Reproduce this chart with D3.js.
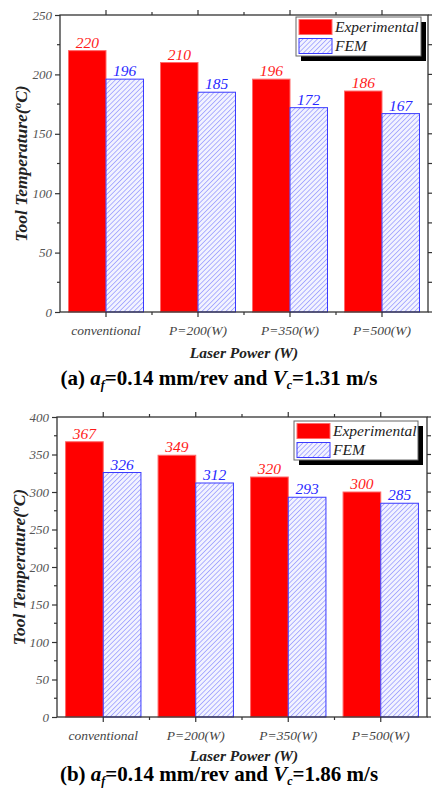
<!DOCTYPE html>
<html><head><meta charset="utf-8">
<script src="https://cdn.jsdelivr.net/npm/d3@7"></script>
<style>html,body{margin:0;padding:0;background:#fff;}svg{display:block;}</style>
</head><body>
<script>
const categories = ["conventional","P=200(W)","P=350(W)","P=500(W)"];
const seriesNames = ["Experimental","FEM"];
const expA = [220,210,196,186];
const femA = [196,185,172,167];
const expB = [367,349,320,300];
const femB = [326,312,293,285];
const yTicksA = [0,50,100,150,200,250];
const yTicksB = [0,50,100,150,200,250,300,350,400];

const W = 432, H = 789;
const svg = d3.select("body").append("svg").attr("width", W).attr("height", H);
const defs = svg.append("defs");
const pat = defs.append("pattern").attr("id","hatch").attr("patternUnits","userSpaceOnUse")
  .attr("width",3.4).attr("height",3.4).attr("patternTransform","rotate(45)");
pat.append("rect").attr("width",3.4).attr("height",3.4).attr("fill","#f2f3ff");
pat.append("line").attr("x1",0).attr("y1",0).attr("x2",0).attr("y2",3.4)
  .attr("stroke","#8a8dff").attr("stroke-width",1.3);

const serif = "'Liberation Serif','Times New Roman',serif";
const axisCol = "#333";

function panel(cfg){
  const g = svg.append("g");
  const x0 = d3.scaleBand().domain(categories).range([cfg.left, cfg.right]).padding(0);
  const x1 = d3.scaleBand().domain(seriesNames).range([0, x0.bandwidth()]).paddingInner(0).paddingOuter(0.227);
  const y = d3.scaleLinear().domain([0, cfg.ymax]).range([cfg.bottom, cfg.top]);
  const minorY = d3.range(0, cfg.ymax + 1, 25);

  // bars
  const data = categories.map((c,i)=>({c, vals:[cfg.exp[i], cfg.fem[i]]}));
  const grp = g.selectAll(".grp").data(data).join("g").attr("transform", d=>`translate(${x0(d.c)},0)`);
  grp.selectAll("rect").data(d=>d.vals.map((v,j)=>({s:seriesNames[j], v})))
    .join("rect")
    .attr("x", d=>x1(d.s)).attr("width", x1.bandwidth())
    .attr("y", d=>y(d.v)).attr("height", d=>y(0)-y(d.v))
    .attr("fill", d=>d.s==="FEM"?"url(#hatch)":"#ff0000")
    .attr("stroke", d=>d.s==="FEM"?"#3a3aff":"#ff6a6a")
    .attr("stroke-width",1);
  grp.selectAll("text").data(d=>d.vals.map((v,j)=>({s:seriesNames[j], v})))
    .join("text")
    .attr("x", d=>x1(d.s)+x1.bandwidth()/2).attr("y", d=>y(d.v)-3)
    .attr("text-anchor","middle").attr("font-family",serif).attr("font-style","italic")
    .attr("font-size",15.5).attr("fill", d=>d.s==="FEM"?"#2828ff":"#ff1a1a")
    .text(d=>d.v);

  // frame
  g.append("rect").attr("x",cfg.left).attr("y",cfg.top).attr("width",cfg.right-cfg.left)
    .attr("height",cfg.bottom-cfg.top).attr("fill","none").attr("stroke",axisCol).attr("stroke-width",1.3);

  // left axis
  const la = g.append("g").attr("transform",`translate(${cfg.left},0)`)
    .call(d3.axisLeft(y).tickValues(cfg.ticks).tickSize(5).tickPadding(3));
  la.select(".domain").remove();
  la.selectAll(".tick line").attr("stroke",axisCol).attr("stroke-width",1.2);
  la.selectAll(".tick text").attr("font-family",serif).attr("font-style","italic").attr("font-size",13).attr("fill","#555");
  g.selectAll(".minL").data(minorY.filter(v=>v%50!==0)).join("line")
    .attr("x1",cfg.left).attr("x2",cfg.left-3).attr("y1",d=>y(d)).attr("y2",d=>y(d))
    .attr("stroke",axisCol).attr("stroke-width",1.2);
  // right axis ticks
  g.selectAll(".minR").data(minorY).join("line")
    .attr("x1",cfg.right).attr("x2",cfg.right+4).attr("y1",d=>y(d)).attr("y2",d=>y(d))
    .attr("stroke",axisCol).attr("stroke-width",1.2);

  // bottom axis
  const ba = g.append("g").attr("transform",`translate(0,${cfg.bottom})`)
    .call(d3.axisBottom(x0).tickSize(5).tickPadding(8));
  ba.select(".domain").remove();
  ba.selectAll(".tick line").attr("stroke",axisCol).attr("stroke-width",1.2);
  ba.selectAll(".tick text").attr("font-family",serif).attr("font-style","italic").attr("font-size",13.5).attr("fill","#444");
  const bounds = categories.slice(1).map(c=>x0(c));
  g.selectAll(".minB").data(bounds).join("line")
    .attr("x1",d=>d).attr("x2",d=>d).attr("y1",cfg.bottom).attr("y2",cfg.bottom+3)
    .attr("stroke",axisCol).attr("stroke-width",1.2);
  // top axis
  const ta = g.append("g").attr("transform",`translate(0,${cfg.top})`)
    .call(d3.axisTop(x0).tickSize(5).tickFormat(""));
  ta.select(".domain").remove();
  ta.selectAll(".tick line").attr("stroke",axisCol).attr("stroke-width",1.2);
  g.selectAll(".minT").data(bounds).join("line")
    .attr("x1",d=>d).attr("x2",d=>d).attr("y1",cfg.top).attr("y2",cfg.top-3)
    .attr("stroke",axisCol).attr("stroke-width",1.2);

  // y label
  const yl = g.append("text").attr("transform",`translate(${cfg.ylx},${(cfg.top+cfg.bottom)/2}) rotate(-90)`)
    .attr("text-anchor","middle").attr("font-family",serif).attr("font-weight","bold").attr("font-style","italic")
    .attr("font-size",17.5).attr("fill","#222");
  yl.append("tspan").text("Tool Temperature(");
  yl.append("tspan").attr("font-size",11).attr("dy",-6).text("o");
  yl.append("tspan").attr("dy",6).text("C)");

  // x label
  g.append("text").attr("x",244).attr("y",cfg.xly).attr("text-anchor","middle")
    .attr("font-family",serif).attr("font-weight","bold").attr("font-style","italic")
    .attr("font-size",15.5).attr("fill","#222").text("Laser Power (W)");

  // legend
  const L = cfg.legend;
  g.append("rect").attr("x",L.x+5).attr("y",L.y+5).attr("width",L.w).attr("height",L.h).attr("fill","#000");
  g.append("rect").attr("x",L.x).attr("y",L.y).attr("width",L.w).attr("height",L.h)
    .attr("fill","#fff").attr("stroke","#666").attr("stroke-width",1);
  seriesNames.forEach((s,i)=>{
    g.append("rect").attr("x",L.x+3).attr("y",L.y+2.5+i*19).attr("width",33).attr("height",15)
      .attr("fill", s==="FEM"?"url(#hatch)":"#ff0000")
      .attr("stroke", s==="FEM"?"#3a3aff":"#ff6a6a");
    g.append("text").attr("x",L.x+39).attr("y",L.y+15+i*19)
      .attr("font-family",serif).attr("font-style","italic").attr("font-size",15.5).attr("fill","#222").text(s);
  });

  // caption
  const cap = g.append("text").attr("x",219).attr("y",cfg.capy).attr("text-anchor","middle")
    .attr("font-family",serif).attr("font-weight","bold").attr("font-size",21).attr("fill","#000");
  cap.append("tspan").text(cfg.capPrefix + " ");
  cap.append("tspan").attr("font-style","italic").text("a");
  cap.append("tspan").attr("font-size",12).attr("dy",4).attr("font-style","italic").text("f");
  cap.append("tspan").attr("dy",-4).text("=0.14 mm/rev and ");
  cap.append("tspan").attr("font-style","italic").text("V");
  cap.append("tspan").attr("font-size",12).attr("dy",4).attr("font-style","italic").text("c");
  cap.append("tspan").attr("dy",-4).text(cfg.capSuffix);
}

panel({left:60,right:428,top:15,bottom:312,ymax:250,ticks:yTicksA,exp:expA,fem:femA,
  ylx:27,xly:358,capy:385,capPrefix:"(a)",capSuffix:"=1.31 m/s",
  legend:{x:296,y:17,w:125,h:39}});
panel({left:57,right:427,top:417,bottom:717,ymax:400,ticks:yTicksB,exp:expB,fem:femB,
  ylx:25,xly:761,capy:781,capPrefix:"(b)",capSuffix:"=1.86 m/s",
  legend:{x:294,y:421,w:124,h:39}});
</script>
</body></html>
